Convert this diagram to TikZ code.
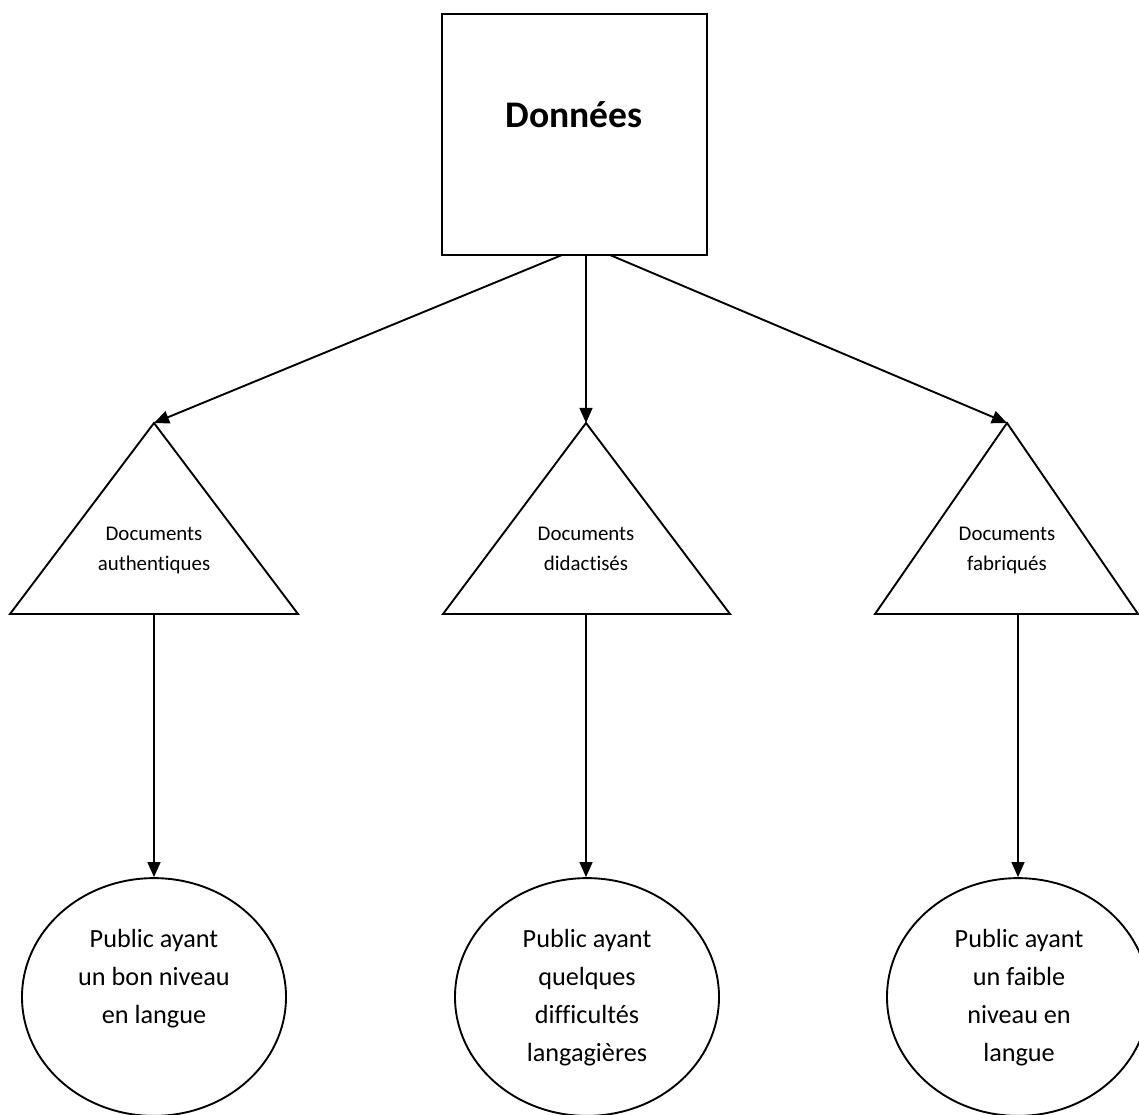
\documentclass[tikz,border=0pt]{standalone}
\usepackage{fontspec}
\setmainfont{Carlito}[Ligatures={NoCommon,NoRare}]
\usetikzlibrary{shapes.geometric,arrows.meta}
\tikzset{
  shape line/.style={draw=black, line width=0.85pt},
  arr/.style={line width=0.85pt, -{Triangle[length=6.8pt,width=5.8pt]}},
  tritext/.style={anchor=north, inner sep=0pt, align=center, font=\fontsize{9.4pt}{13.5pt}\selectfont},
  elltext/.style={anchor=north, inner sep=0pt, align=center, font=\fontsize{11.8pt}{17.1pt}\selectfont},
  ellnode/.style={shape line, ellipse, minimum width=118.8pt, minimum height=107pt, inner sep=0pt},
}
\begin{document}
\begin{tikzpicture}[x=0.45pt,y=-0.45pt]
\clip (0,0) rectangle (1139,1115);
\fill[white] (0,0) rectangle (1139,1115);
% top box
\node[shape line, rectangle, minimum width=119.25pt, minimum height=108.45pt, inner sep=0pt] (data) at (574.5,134.5) {};
\node[anchor=base, inner sep=0pt, font=\fontsize{16.9pt}{20pt}\selectfont\bfseries] (datatext) at (574,128) {Données};
\coordinate (d1) at (562,255);
\coordinate (d2) at (586,255);
\coordinate (d3) at (610,255);
% triangles
\coordinate (t1) at (154,423);
\coordinate (t2) at (586,423);
\coordinate (t3) at (1007,423);
\coordinate (b1) at (154,614);
\coordinate (b2) at (586,614);
\coordinate (b3) at (1018,614);
\draw[shape line, line join=miter] (t1) -- (10,614) -- (298,614) -- cycle;
\draw[shape line, line join=miter] (t2) -- (443,614) -- (730,614) -- cycle;
\draw[shape line, line join=miter] (t3) -- (875,614) -- (1138,614) -- cycle;
\node[tritext] (tx1) at (154,527) {Documents\\authentiques};
\node[tritext] (tx2) at (586,527) {Documents\\didactisés};
\node[tritext] (tx3) at (1007,527) {Documents\\fabriqués};
% ellipses
\node[ellnode] (e1) at (154,997) {};
\node[ellnode] (e2) at (587,997) {};
\node[ellnode, minimum width=117.9pt] (e3) at (1018,997) {};
\node[elltext] (ex1) at (154,929) {Public ayant\\un bon niveau\\en langue};
\node[elltext] (ex2) at (587,929) {Public ayant\\quelques\\difficultés\\langagières};
\node[elltext] (ex3) at (1019,929) {Public ayant\\un faible\\niveau en\\langue};
% connectors
\draw[arr] (d1) -- (t1);
\draw[arr] (d2) -- (t2);
\draw[arr] (d3) -- (t3);
\draw[arr] (b1) -- (e1.north);
\draw[arr] (b2) -- (e2.north -| b2);
\draw[arr] (b3) -- (e3.north);
\end{tikzpicture}
\end{document}
